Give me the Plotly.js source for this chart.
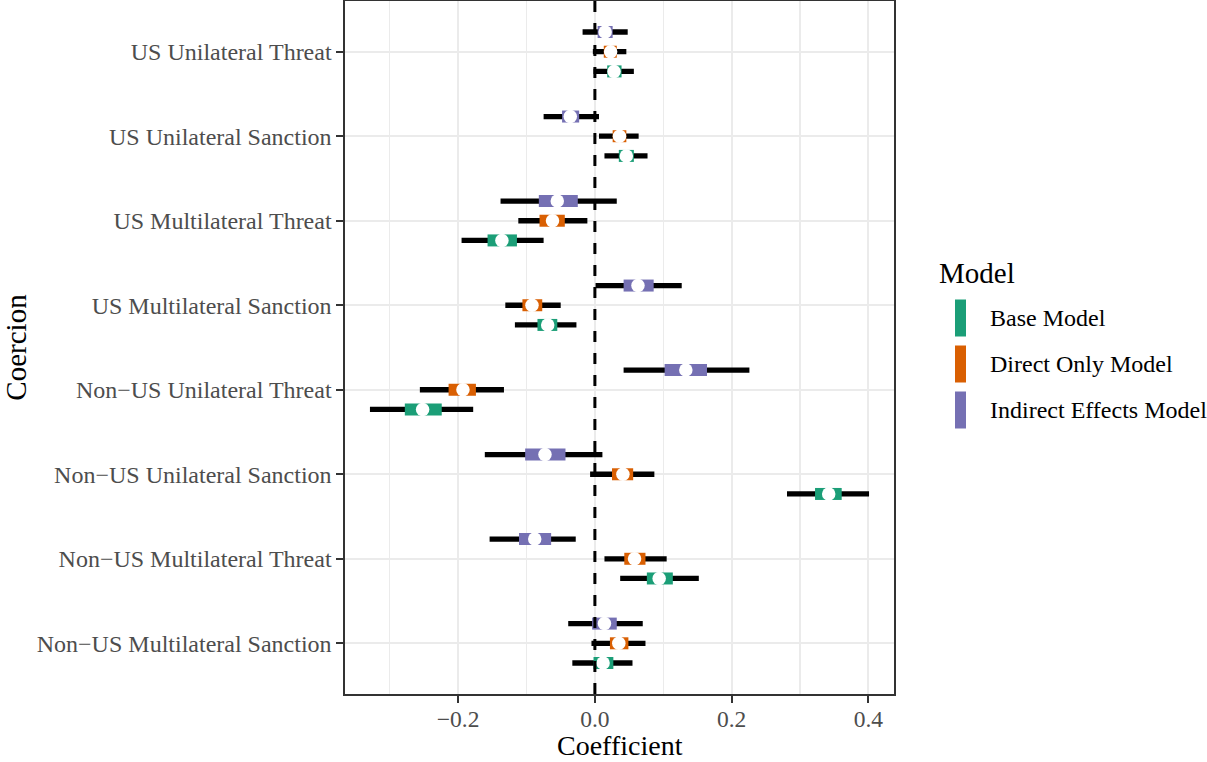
<!DOCTYPE html>
<html>
<head>
<meta charset="utf-8">
<script src="https://cdn.plot.ly/plotly-3.0.1.min.js"></script>
<style>html,body{margin:0;padding:0;background:#fff;}#chart{width:1207px;height:762px;}</style>
</head>
<body>
<div id="chart"></div>
<script>
// ---------- data ----------
const categories = [
  "US Unilateral Threat",
  "US Unilateral Sanction",
  "US Multilateral Threat",
  "US Multilateral Sanction",
  "Non\u2212US Unilateral Threat",
  "Non\u2212US Unilateral Sanction",
  "Non\u2212US Multilateral Threat",
  "Non\u2212US Multilateral Sanction"
];
const models = ["Base Model", "Direct Only Model", "Indirect Effects Model"];
const modelColors = ["#1B9E77", "#D95F02", "#7570B3"];
const xTitle = "Coefficient";
const yTitle = "Coercion";
const legendTitle = "Model";

// point estimates
const baseEst     = [0.028, 0.046, -0.136, -0.069, -0.252, 0.342, 0.094, 0.012];
const directEst   = [0.023, 0.036, -0.062, -0.092, -0.193, 0.041, 0.058, 0.035];
const indirectEst = [0.015, -0.036, -0.055, 0.063, 0.133, -0.073, -0.088, 0.014];

// outer (wide) interval
const baseLoWide     = [-0.002, 0.014, -0.195, -0.117, -0.329, 0.281, 0.037, -0.033];
const baseHiWide     = [0.057, 0.077, -0.075, -0.027, -0.178, 0.401, 0.152, 0.055];
const directLoWide   = [-0.003, 0.006, -0.112, -0.131, -0.256, -0.007, 0.014, -0.005];
const directHiWide   = [0.046, 0.064, -0.011, -0.050, -0.133, 0.087, 0.105, 0.074];
const indirectLoWide = [-0.018, -0.075, -0.138, 0.001, 0.042, -0.161, -0.154, -0.039];
const indirectHiWide = [0.048, 0.006, 0.032, 0.127, 0.226, 0.011, -0.028, 0.070];

// inner (narrow) interval
const baseLoNarrow     = [0.018, 0.035, -0.157, -0.084, -0.278, 0.322, 0.076, -0.002];
const baseHiNarrow     = [0.039, 0.057, -0.114, -0.055, -0.224, 0.361, 0.114, 0.027];
const directLoNarrow   = [0.013, 0.026, -0.081, -0.106, -0.214, 0.025, 0.043, 0.022];
const directHiNarrow   = [0.032, 0.046, -0.044, -0.077, -0.174, 0.056, 0.074, 0.049];
const indirectLoNarrow = [0.004, -0.048, -0.082, 0.042, 0.102, -0.102, -0.111, -0.004];
const indirectHiNarrow = [0.026, -0.023, -0.025, 0.086, 0.164, -0.043, -0.064, 0.032];

const xTickVals = [-0.2, 0.0, 0.2, 0.4];
const xTickText = ["\u22120.2", "0.0", "0.2", "0.4"];

// ---------- build ----------
const series = [
  {est: baseEst, loW: baseLoWide, hiW: baseHiWide, loN: baseLoNarrow, hiN: baseHiNarrow},
  {est: directEst, loW: directLoWide, hiW: directHiWide, loN: directLoNarrow, hiN: directHiNarrow},
  {est: indirectEst, loW: indirectLoWide, hiW: indirectHiWide, loN: indirectLoNarrow, hiN: indirectHiNarrow}
];
const dodge = [-0.233, 0, 0.233];
const nCat = categories.length;
const catPos = categories.map((c, i) => nCat - 1 - i);

const FONT = "'Liberation Serif', 'Times New Roman', serif";
const traces = [];
series.forEach((s, m) => {
  const ys = catPos.map(p => p + dodge[m]);
  traces.push({
    type: "scatter", mode: "markers", x: s.est, y: ys, hoverinfo: "skip", showlegend: false,
    marker: {size: 1, color: "rgba(0,0,0,0)"},
    error_x: {type: "data", symmetric: false,
      array: s.est.map((e, i) => s.hiW[i] - e),
      arrayminus: s.est.map((e, i) => e - s.loW[i]),
      color: "#000000", thickness: 5.3, width: 0}
  });
});
series.forEach((s, m) => {
  const ys = catPos.map(p => p + dodge[m]);
  traces.push({
    type: "scatter", mode: "markers", x: s.est, y: ys, name: models[m], hoverinfo: "skip", showlegend: false,
    marker: {size: 13.5, color: "#FFFFFF", line: {width: 0}},
    error_x: {type: "data", symmetric: false,
      array: s.est.map((e, i) => s.hiN[i] - e),
      arrayminus: s.est.map((e, i) => e - s.loN[i]),
      color: modelColors[m], thickness: 12, width: 0}
  });
});

const W = 1207, H = 762, ml = 345, mr = 313, mt = 1, mb = 68;
const pw = W - ml - mr, ph = H - mt - mb;
const pX = px => (px - ml) / pw;
const pY = py => (H - mb - py) / ph;

const shapes = [{
  type: "line", xref: "x", yref: "paper", x0: 0, x1: 0, y0: 0, y1: 1, layer: "above",
  line: {color: "#000000", width: 3, dash: "11px,11px"}
}];
const annotations = [
  {xref: "paper", yref: "paper", x: 0.5, y: pY(762), xanchor: "center", yanchor: "bottom",
   borderpad: 0, text: xTitle, showarrow: false, font: {family: FONT, size: 28, color: "#000000"}},
  {xref: "paper", yref: "paper", x: pX(937), y: pY(273), xanchor: "left", yanchor: "middle",
   text: legendTitle, showarrow: false, font: {family: FONT, size: 29, color: "#000000"}}
];
const keyY = [318, 364, 410];
models.forEach((name, m) => {
  shapes.push({type: "rect", xref: "paper", yref: "paper",
    x0: pX(955), x1: pX(966), y0: pY(keyY[m] + 18.5), y1: pY(keyY[m] - 18.5),
    fillcolor: modelColors[m], line: {width: 0}});
  annotations.push({xref: "paper", yref: "paper", x: pX(988), y: pY(keyY[m]),
    xanchor: "left", yanchor: "middle", text: name, showarrow: false,
    font: {family: FONT, size: 24, color: "#000000"}});
});

const layout = {
  width: W, height: H,
  margin: {l: ml, r: mr, t: mt, b: mb, pad: 0},
  paper_bgcolor: "#FFFFFF", plot_bgcolor: "#FFFFFF",
  font: {family: FONT, size: 24, color: "#4D4D4D"},
  showlegend: false,
  xaxis: {
    range: [-0.3655, 0.4375], zeroline: false,
    tickmode: "array", tickvals: xTickVals, ticktext: xTickText,
    ticks: "outside", ticklen: 7, tickwidth: 2.2, tickcolor: "#333333",
    ticklabelstandoff: -4,
    tickfont: {family: FONT, size: 23.5, color: "#4D4D4D"},
    showgrid: true, gridcolor: "#EBEBEB", gridwidth: 2.2,
    minor: {tickvals: [-0.3, -0.1, 0.1, 0.3], showgrid: true, gridcolor: "#EBEBEB", gridwidth: 1.1, ticks: ""},
    showline: true, mirror: true, linecolor: "#333333", linewidth: 1.6
  },
  yaxis: {
    range: [-0.6, 7.6], zeroline: false,
    tickmode: "array", tickvals: catPos, ticktext: categories,
    ticks: "outside", ticklen: 7, tickwidth: 2.2, tickcolor: "#333333",
    tickfont: {family: FONT, size: 24, color: "#4D4D4D"},
    showgrid: true, gridcolor: "#EBEBEB", gridwidth: 2.2,
    showline: true, mirror: true, linecolor: "#333333", linewidth: 1.6,
    title: {text: yTitle, font: {family: FONT, size: 29, color: "#000000"}, standoff: 15}
  },
  shapes: shapes,
  annotations: annotations
};

Plotly.newPlot("chart", traces, layout, {displayModeBar: false, staticPlot: true});
</script>
</body>
</html>
